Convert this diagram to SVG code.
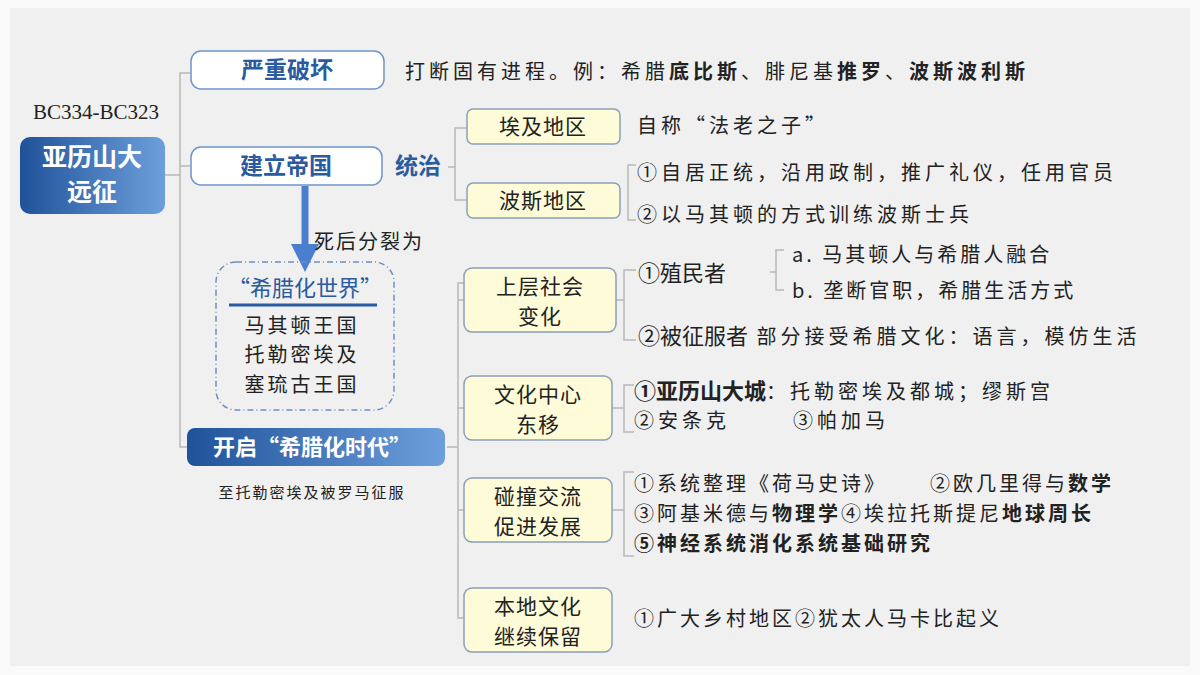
<svg xmlns="http://www.w3.org/2000/svg" width="1200" height="675" viewBox="0 0 1200 675">
<defs>
<linearGradient id="bg" x1="0" y1="0" x2="1" y2="0"><stop offset="0" stop-color="#1f5299"/><stop offset="1" stop-color="#6e9fdc"/></linearGradient>
<marker id="ah" markerWidth="4" markerHeight="4" refX="2" refY="2" orient="auto" markerUnits="strokeWidth"><path d="M0,0 L4,2 L0,4 Z" fill="#4a7fd0"/></marker>
<style>
text{font-family:"Noto Sans CJK SC","Noto Sans",sans-serif;fill:#222}
.w{fill:#fff;stroke:#6d95c8;stroke-width:1.5}
.y{fill:#fdfbd8;stroke:#8aa0b8;stroke-width:1.5}
.hb{font-weight:bold;fill:#2a5aa0;font-size:23px;text-anchor:middle}
.yt{font-size:21px;text-anchor:middle;letter-spacing:1px}
.t{font-size:20px;letter-spacing:4px}
.c{fill:none;stroke:#b8b8b8;stroke-width:1.5}
</style>
</defs>
<rect width="1200" height="675" fill="#fafafa"/>
<rect x="10" y="8" width="1180" height="658" fill="#f0f0f0"/>
<g id="connectors">
<path class="c" d="M165,175 H180 M190,73 H180 V447 H190 M180,166 H190"/>
<path class="c" d="M448,167 H455 M467,128 H455 V200 H467"/>
<path class="c" d="M636,165 H628 V220 H636"/>
<path class="c" d="M447,447 H458 M464,283 H458 V618 H464 M458,300 H464 M458,408 H464 M458,510 H464"/>
<path class="c" d="M616,300 H624 M636,270 H624 V340 H636"/>
<path class="c" d="M784,250 H776 V290 H784 M770,272 H776"/>
<path class="c" d="M612,408 H624 M634,385 H624 V432 H634"/>
<path class="c" d="M612,510 H624 M634,472 H624 V556 H634"/>
<line x1="305" y1="186" x2="305" y2="258" stroke="#4a7fd0" stroke-width="7" marker-end="url(#ah)"/>
</g>
<text x="96" y="119" font-size="21" text-anchor="middle" style="font-family:'Liberation Serif',serif">BC334-BC323</text>
<g id="n-main"><rect x="20" y="137" width="145" height="77" rx="10" fill="url(#bg)"/><text x="92" y="166" font-size="25" font-weight="bold" text-anchor="middle" style="fill:#fff">亚历山大</text><text x="92" y="201" font-size="25" font-weight="bold" text-anchor="middle" style="fill:#fff">远征</text></g>
<g id="n-pohuai"><rect class="w" x="191" y="51" width="193" height="38" rx="10"/><text class="hb" x="287" y="78">严重破坏</text></g>
<text class="t" x="405" y="79">打断固有进程。例：希腊<tspan font-weight="bold">底比斯</tspan>、腓尼基<tspan font-weight="bold">推罗</tspan>、<tspan font-weight="bold">波斯波利斯</tspan></text>
<g id="n-diguo"><rect class="w" x="191" y="147" width="191" height="38" rx="10"/><text class="hb" x="286" y="174">建立帝国</text></g>
<text x="418" y="174" class="hb">统治</text>
<text class="t" x="314" y="249" style="letter-spacing:2px">死后分裂为</text>
<g id="n-world"><rect x="216" y="262" width="178" height="148" rx="20" fill="none" stroke="#6d8fc0" stroke-width="1.5" stroke-dasharray="6,3,1,3"/>
<text x="305" y="296" font-size="22" text-anchor="middle" style="fill:#2a5aa0">“希腊化世界”</text>
<line x1="229" y1="305" x2="377" y2="305" stroke="#2a5aa0" stroke-width="3"/>
<text x="302" y="333" font-size="20" text-anchor="middle" letter-spacing="3">马其顿王国</text>
<text x="302" y="362" font-size="20" text-anchor="middle" letter-spacing="3">托勒密埃及</text>
<text x="302" y="392" font-size="20" text-anchor="middle" letter-spacing="3">塞琉古王国</text></g>
<g id="n-era"><rect x="187" y="428" width="258" height="38" rx="8" fill="url(#bg)"/><text x="312" y="455" font-size="22" font-weight="bold" text-anchor="middle" style="fill:#fff">开启“希腊化时代”</text></g>
<text x="312" y="498" font-size="15" text-anchor="middle" letter-spacing="2">至托勒密埃及被罗马征服</text>
<g id="n-aiji"><rect class="y" x="467" y="109" width="153" height="35" rx="6"/><text class="yt" x="543" y="134">埃及地区</text></g>
<text class="t" x="637" y="133">自称“法老之子”</text>
<g id="n-bosi"><rect class="y" x="467" y="183" width="153" height="35" rx="6"/><text class="yt" x="543" y="208">波斯地区</text></g>
<text class="t" x="637" y="180">①自居正统，沿用政制，推广礼仪，任用官员</text>
<text class="t" x="637" y="222">②以马其顿的方式训练波斯士兵</text>
<g id="n-shangceng"><rect class="y" x="464" y="268" width="152" height="64" rx="8"/><text class="yt" x="540" y="294">上层社会</text><text class="yt" x="540" y="324">变化</text></g>
<text x="638" y="281" font-size="22">①殖民者</text>
<text class="t" x="792" y="262" style="letter-spacing:3px">a. 马其顿人与希腊人融合</text>
<text class="t" x="792" y="298" style="letter-spacing:3px">b. 垄断官职，希腊生活方式</text>
<text class="t" x="638" y="344"><tspan font-size="22" style="letter-spacing:0">②被征服者</tspan> 部分接受希腊文化：语言，模仿生活</text>
<g id="n-wenhua"><rect class="y" x="464" y="376" width="148" height="64" rx="8"/><text class="yt" x="538" y="402">文化中心</text><text class="yt" x="538" y="432">东移</text></g>
<text class="t" x="634" y="399"><tspan font-weight="bold" font-size="22" style="letter-spacing:0">①亚历山大城</tspan>：托勒密埃及都城；缪斯宫</text>
<text class="t" x="634" y="428">②安条克<tspan x="793">③帕加马</tspan></text>
<g id="n-pengzhuang"><rect class="y" x="464" y="478" width="148" height="64" rx="8"/><text class="yt" x="538" y="504">碰撞交流</text><text class="yt" x="538" y="534">促进发展</text></g>
<text class="t" x="634" y="491" style="letter-spacing:3px">①系统整理《荷马史诗》<tspan x="930">②欧几里得与<tspan font-weight="bold">数学</tspan></tspan></text>
<text class="t" x="634" y="521" style="letter-spacing:3px">③阿基米德与<tspan font-weight="bold">物理学</tspan>④埃拉托斯提尼<tspan font-weight="bold">地球周长</tspan></text>
<text class="t" x="634" y="551" font-weight="bold" style="letter-spacing:3px">⑤神经系统消化系统基础研究</text>
<g id="n-bendi"><rect class="y" x="464" y="588" width="148" height="64" rx="8"/><text class="yt" x="538" y="614">本地文化</text><text class="yt" x="538" y="644">继续保留</text></g>
<text class="t" x="634" y="626" style="letter-spacing:3px">①广大乡村地区②犹太人马卡比起义</text>
</svg>
